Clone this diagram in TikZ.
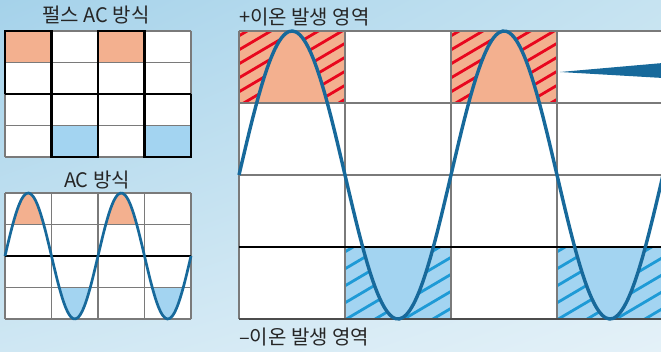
\documentclass[tikz,border=0pt]{standalone}
\usepackage{fontspec}
\newfontfamily\krfont{Noto Sans CJK KR}
\usetikzlibrary{shadings}
\definecolor{wave}{HTML}{17699B}
\definecolor{salmon}{HTML}{F3B08F}
\definecolor{skyfill}{HTML}{A3D4F1}
\definecolor{hatchred}{HTML}{E8071E}
\definecolor{hatchblue}{HTML}{1E9AD6}
\definecolor{gridgray}{HTML}{7A7A7A}
\definecolor{bgtl}{HTML}{A5D2EA}
\definecolor{bgtr}{HTML}{C6E3F1}
\definecolor{bgbl}{HTML}{CFE7F3}
\definecolor{bgbr}{HTML}{E4F1F8}

\begin{document}
\begin{tikzpicture}[x=1pt,y=-1pt,
  lbl/.style={font=\krfont\fontsize{20}{20}\selectfont,text=black!85,inner sep=0pt},
  thingrid/.style={draw=gridgray,line width=1.1pt},
  biggrid/.style={draw=gridgray,line width=1.6pt},
  pulseline/.style={draw=black,line width=2.4pt,line join=miter},
  hatchline/.style={line width=2.8pt}]
\clip (0,0) rectangle (661,352);
\shade[upper left=bgtl,upper right=bgtr,lower left=bgbl,lower right=bgbr] (0,0) rectangle (661,352);

% pulse AC grid
\node[lbl] (pulsetitle) at (96,15) {펄스 AC 방식};
\fill[white] (5,31) rectangle (191,157);
\fill[salmon] (5,31) rectangle (51.5,62.5);
\fill[salmon] (98,31) rectangle (144.5,62.5);
\fill[skyfill] (51.5,125.5) rectangle (98,157);
\fill[skyfill] (144.5,125.5) rectangle (191,157);
\foreach \gx in {5,51.5,98,144.5,191}
  \draw[thingrid] (\gx,31) -- (\gx,157);
\foreach \gy in {31,62.5,94,125.5,157}
  \draw[thingrid] (5,\gy) -- (191,\gy);
\draw[pulseline] (5,94) -- (5,31) -- (51.5,31) -- (51.5,157) -- (98,157) -- (98,31)
  -- (144.5,31) -- (144.5,157) -- (191,157) -- (191,94);
\draw[pulseline] (5,94) -- (191,94);

% AC grid
\node[lbl] (actitle) at (97,180) {AC 방식};
\fill[white] (5,193) rectangle (191,319);
\begin{scope}
  \clip (5,193) rectangle (191,224.5);
  \fill[salmon] plot[domain=5:191,samples=80,smooth] ({\x},{256-63*sin((\x-5)/93*360)}) -- cycle;
\end{scope}
\begin{scope}
  \clip (5,287.5) rectangle (191,319);
  \fill[skyfill] plot[domain=5:191,samples=80,smooth] ({\x},{256-63*sin((\x-5)/93*360)}) -- cycle;
\end{scope}
\foreach \gx in {5,51.5,98,144.5,191}
  \draw[thingrid] (\gx,193) -- (\gx,319);
\foreach \gy in {193,224.5,287.5,319}
  \draw[thingrid] (5,\gy) -- (191,\gy);
\draw[black,line width=1.6pt] (5,256) -- (191,256);
\draw[wave,line width=2.7pt] plot[domain=5:191,samples=80,smooth] ({\x},{256-63*sin((\x-5)/93*360)});

% large grid
\node[lbl,anchor=west] (plustitle) at (239,17) {+이온 발생 영역};
\node[lbl,anchor=west] (minustitle) at (239,337) {–이온 발생 영역};
\fill[white] (239,31) rectangle (663,319);
\foreach \cx/\cy/\fc/\hc/\hs in {239/31/salmon/hatchred/14,451/31/salmon/hatchred/14,345/247/skyfill/hatchblue/17,557/247/skyfill/hatchblue/17}{
  \begin{scope}
    \clip (\cx,\cy) rectangle ++(106,72);
    \fill[\fc] (\cx,\cy) rectangle ++(106,72);
    \foreach \k in {0,...,11}
      \draw[hatchline,\hc] (\cx-2,\cy+6+\k*\hs) -- ++(112,-66);
  \end{scope}
}
\begin{scope}
  \clip (239,31) rectangle (663,103);
  \fill[salmon] plot[domain=239:663,samples=120,smooth] ({\x},{175-144*sin((\x-239)/212*360)}) -- cycle;
\end{scope}
\begin{scope}
  \clip (239,247) rectangle (663,319);
  \fill[skyfill] plot[domain=239:663,samples=120,smooth] ({\x},{175-144*sin((\x-239)/212*360)}) -- cycle;
\end{scope}
\foreach \gx in {239,345,451,557}
  \draw[biggrid] (\gx,31) -- (\gx,319);
\foreach \gy in {31,103,175}
  \draw[biggrid] (239,\gy) -- (663,\gy);
\draw[black,line width=1.1pt] (239,247) -- (663,247);
\draw[black!70,line width=1.3pt] (239,319) -- (663,319);
\draw[wave,line width=3.4pt] plot[domain=239:663,samples=120,smooth] ({\x},{175-144*sin((\x-239)/212*360)});
\fill[wave] (560,72) -- (663,63) -- (663,78) -- cycle;
\end{tikzpicture}
\end{document}
